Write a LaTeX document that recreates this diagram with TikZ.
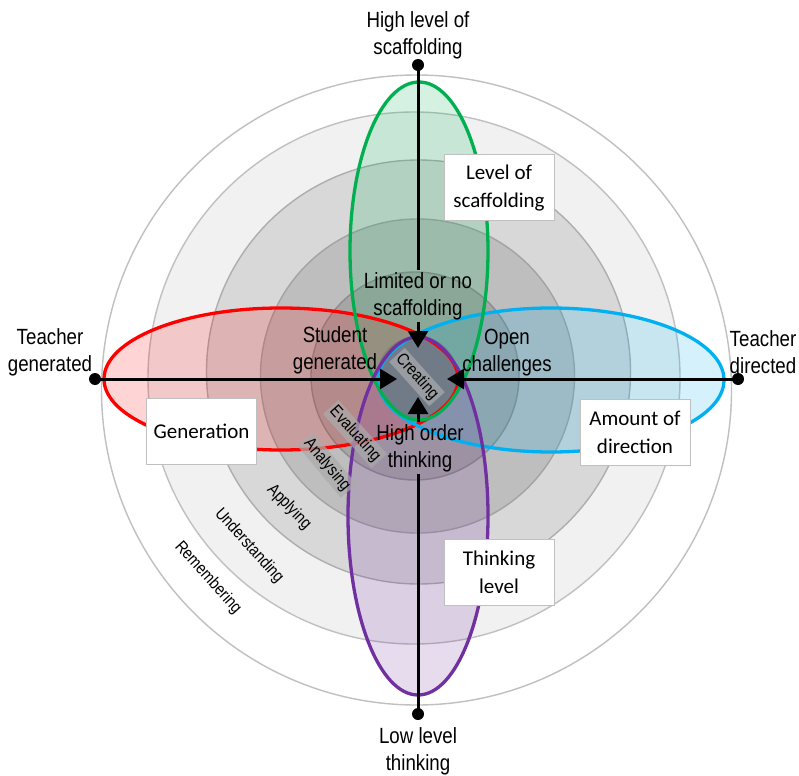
\documentclass[tikz,border=0pt]{standalone}
\usepackage{fontspec}
\setmainfont{Liberation Sans}
\newfontfamily\narrowfont[FakeStretch=0.85]{Liberation Sans}
\newfontfamily\boxfont{Carlito}
\usetikzlibrary{arrows.meta}
\definecolor{cRed}{HTML}{FF0000}
\definecolor{cBlue}{HTML}{00B0F0}
\definecolor{cGreen}{HTML}{00B050}
\definecolor{cPurple}{HTML}{7030A0}
\definecolor{ringA}{HTML}{F1F1F1}
\definecolor{ringB}{HTML}{D8D8D8}
\definecolor{ringC}{HTML}{BEBEBE}
\definecolor{ringD}{HTML}{A6A6A6}
\definecolor{ringE}{HTML}{969696}
\definecolor{ringLineLight}{HTML}{C0C0C0}
\definecolor{ringLineDark}{HTML}{8C8C8C}
\begin{document}
\begin{tikzpicture}[x=1pt,y=-1pt,
  ring/.style={fill=#1, line width=1.4pt},
  ellfill/.style={fill=#1, fill opacity=0.17},
  elldraw/.style={draw=#1, line width=3.3pt},
  lbl/.style={font=\narrowfont\fontsize{22}{27}\selectfont, align=center, inner sep=2pt},
  tbox/.style={draw=ringLineLight, fill=white, line width=1pt, font=\boxfont\fontsize{21}{28}\selectfont, align=center, minimum width=110pt, minimum height=66pt, inner sep=2pt},
  lvl/.style={font=\narrowfont\fontsize{17}{20}\selectfont, inner sep=1.5pt},
  lvlbox/.style={lvl, fill=black!33, fill opacity=0.7, text opacity=1, inner sep=2.5pt},
  dot/.style={circle, fill=black, inner sep=0pt, minimum size=12pt},
  conn/.style={line width=3pt},
  arr/.style={line width=3pt, -{Triangle[length=17pt,width=20pt]}}
]
\useasboundingbox (0,0) rectangle (799,775);
\fill[white] (0,0) rectangle (799,775);

% concentric levels
\draw[ring=white, draw=ringLineLight] (416.5,390) circle [radius=315];
\draw[ring=ringA, draw=ringLineLight] (414,378) circle [radius=266];
\draw[ring=ringB, draw=ringLineLight!90!black] (418.5,372) circle [radius=212];
\draw[ring=ringC, draw=ringLineDark!80!white] (417.5,376) circle [radius=157];
\draw[ring=ringD, draw=ringLineDark] (415,376) circle [radius=104];
\draw[ring=ringE, draw=ringLineDark] (417.5,377) circle [radius=40];

% ellipse fills
\fill[ellfill=cRed] (281,379) ellipse [x radius=177, y radius=71];
\fill[ellfill=cBlue] (551,380) ellipse [x radius=173, y radius=72];
\fill[ellfill=cGreen] (419,251) ellipse [x radius=69, y radius=169];
\fill[ellfill=cPurple] (418,516) ellipse [x radius=70, y radius=179];
% ellipse borders
\draw[elldraw=cRed] (281,379) ellipse [x radius=177, y radius=71];
\draw[elldraw=cBlue] (551,380) ellipse [x radius=173, y radius=72];
\draw[elldraw=cGreen] (419,251) ellipse [x radius=69, y radius=169];
\draw[elldraw=cPurple] (418,516) ellipse [x radius=70, y radius=179];

% dimension boxes
\node[tbox] (bScaf) at (499,188) {Level of\\scaffolding};
\node[tbox] (bGen) at (201.5,431) {Generation};
\node[tbox] (bDir) at (635,432.5) {Amount of\\direction};
\node[tbox] (bThink) at (499,572.5) {Thinking\\level};

% level labels
\node[lvl, rotate=-48] (lRem) at (208,578) {Remembering};
\node[lvl, rotate=-48] (lUnd) at (249,546) {Understanding};
\node[lvl, rotate=-46] (lApp) at (289,507) {Applying};
\node[lvlbox, rotate=-50] (lAna) at (327,465) {Analysing};
\node[lvlbox, rotate=-48] (lEva) at (355,434) {Evaluating};
\node[lvlbox, rotate=-48] (lCre) at (417,377) {Creating};

% end points
\node[dot] (dT) at (418,65) {};
\node[dot] (dB) at (418,714) {};
\node[dot] (dL) at (95,379) {};
\node[dot] (dR) at (738,379) {};
\coordinate (tipT) at (418,348);
\coordinate (tipB) at (418,397);
\coordinate (tipL) at (397,379);
\coordinate (tipR) at (447,379);

% inner labels
\node[lbl] (lim) at (418,296) {Limited or no\\scaffolding};
\node[lbl] (hot) at (420,448) {High order\\thinking};
\node[lbl] (tSG) at (335,350) {Student\\generated};
\node[lbl] (tOC) at (507,353) {Open\\challenges};

% outer labels
\node[lbl] (tHigh) at (418,35) {High level of\\scaffolding};
\node[lbl] (tLow) at (418,751) {Low level\\thinking};
\node[lbl] (tTG) at (50,352) {Teacher\\generated};
\node[lbl] (tTD) at (763,352) {Teacher\\directed};

% connectors
\draw[conn] (dT.center) -- (lim.north -| dT);
\draw[arr] (lim.south -| dT) -- (tipT);
\draw[conn] (dB.center) -- (hot.south -| dB);
\draw[arr] (hot.north -| dB) -- (tipB);
\draw[arr] (dL.center) -- (tipL);
\draw[arr] (dR.center) -- (tipR);
\end{tikzpicture}
\end{document}
